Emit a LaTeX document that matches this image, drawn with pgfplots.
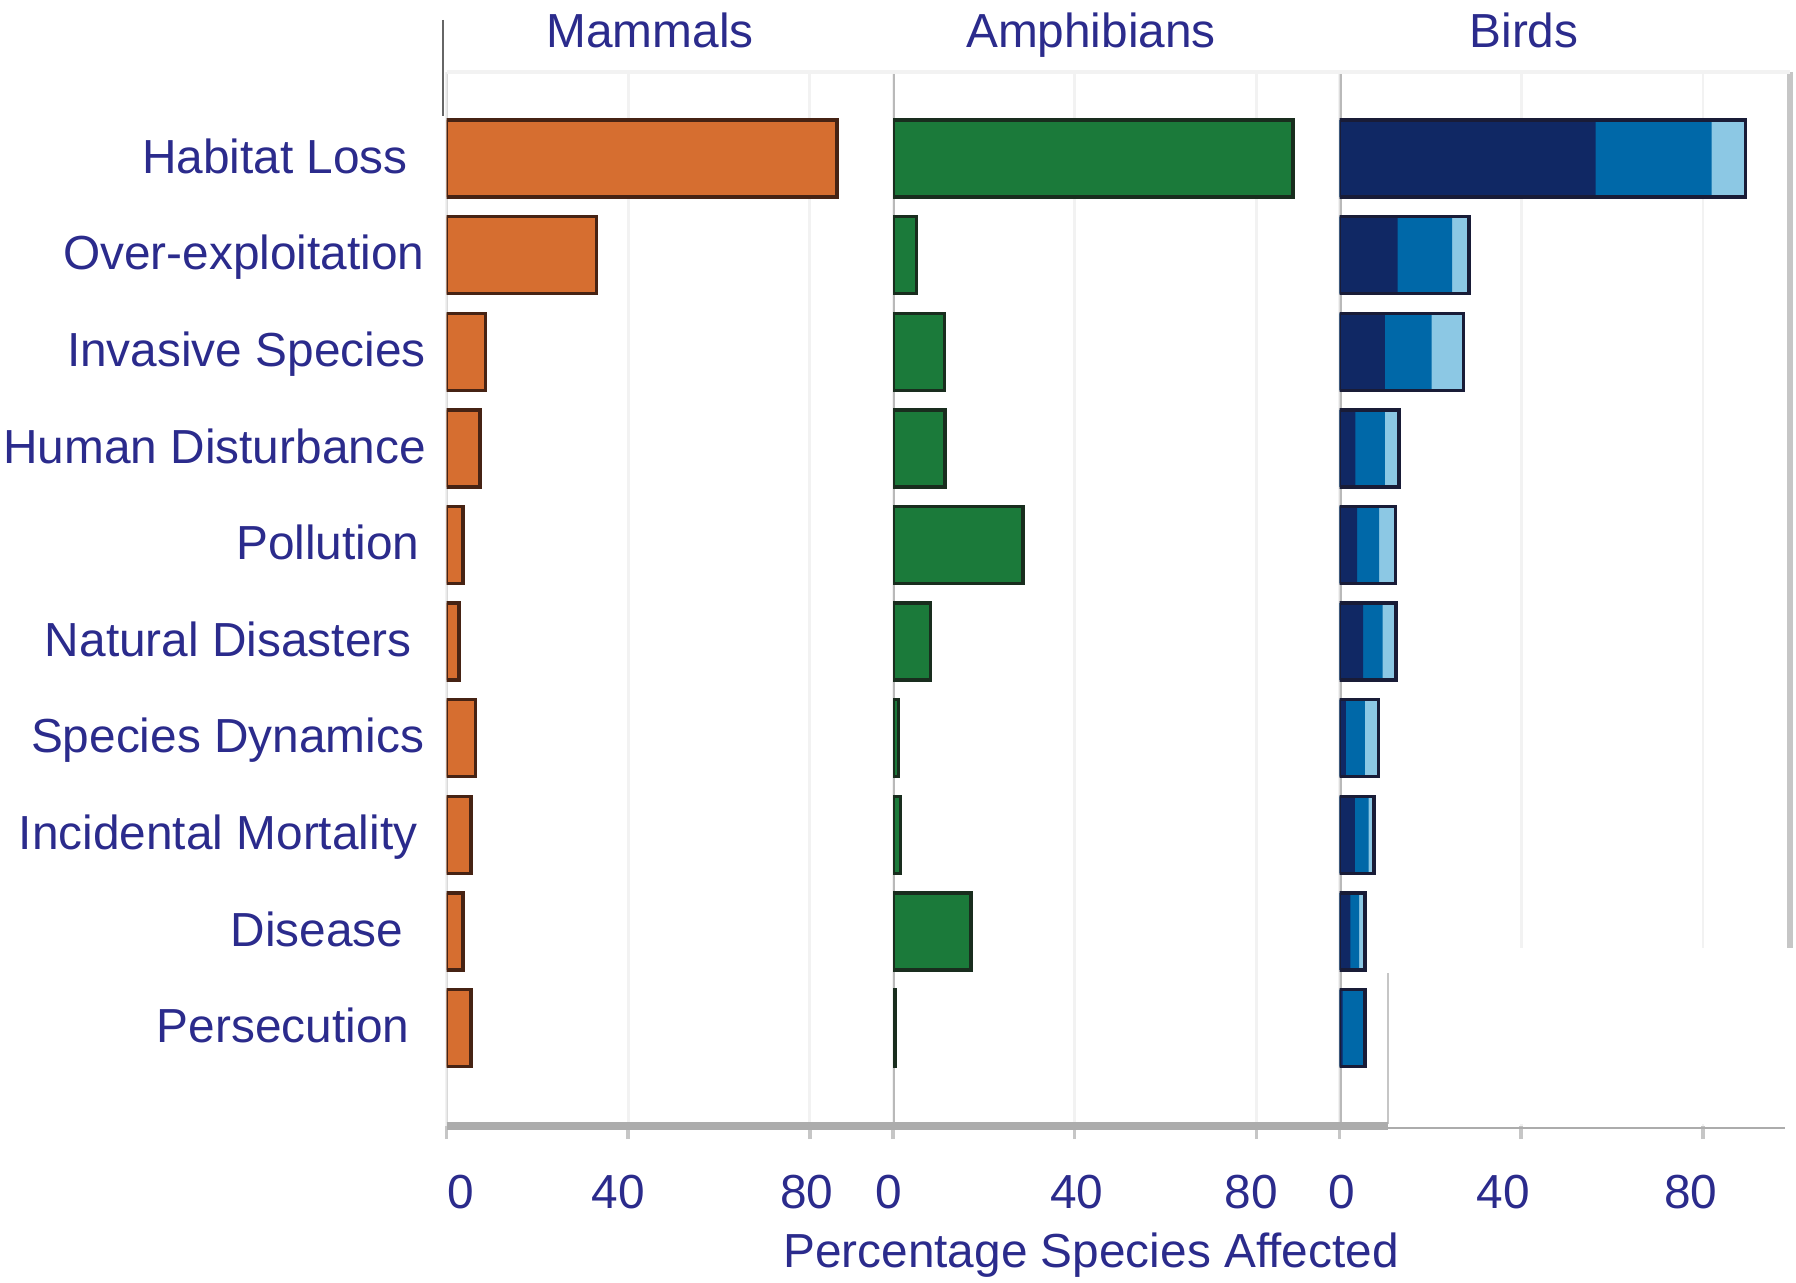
\documentclass[border=0pt]{standalone}
\usepackage{pgfplots}
\pgfplotsset{compat=1.18}
\usepackage{pgfplotstable}
\usepackage{fontspec}
\setmainfont{Liberation Sans}

\definecolor{txt}{RGB}{43,43,140}
\definecolor{orng}{RGB}{214,110,48}
\definecolor{orngdk}{RGB}{70,35,20}
\definecolor{grn}{RGB}{27,122,58}
\definecolor{grndk}{RGB}{25,45,30}
\definecolor{navy}{RGB}{16,40,100}
\definecolor{mblue}{RGB}{0,104,168}
\definecolor{lblue}{RGB}{140,200,228}
\definecolor{bdk}{RGB}{25,28,55}

% percentage of species affected; birds: cumulative ends of the three shades
\pgfplotstableread{
y mam  amp  b1   b2   b3
0 86.0 88.0 56.4 81.9 89.4
1 33.0 5.2  12.8 24.8 28.5
2 8.6  11.3 10.0 20.3 27.3
3 7.4  11.5 3.5  10.0 13.1
4 3.6  28.6 3.9  8.7  12.3
5 2.7  8.3  5.2  9.5  12.4
6 6.4  1.2  1.4  5.6  8.6
7 5.4  1.6  3.4  6.4  7.6
8 3.6  17.2 2.4  4.3  5.6
9 5.4  0.6  0.7  5.6  5.6
}\data

\pgfplotsset{panel/.style={
    scale only axis, width=4.465cm, height=10.54cm,
    xmin=0, xmax=98.3, ymin=-0.896, ymax=10.014, y dir=reverse,
    xtick={0,40,80}, ytick=\empty,
    xmajorgrids, grid style={gray!10, line width=0.8pt},
    axis line style={draw=none},
    tick align=outside, major tick length=0.13cm,
    xtick style={gray!45, line width=1pt},
    tick pos=left,
    xticklabel style={font=\fontsize{13.6}{16}\selectfont, text=txt,
        anchor=base, yshift=-0.69cm},
    xbar, bar width=0.77cm, bar shift=0pt,
}}

\begin{document}
\begin{tikzpicture}
\fontsize{13.6}{16}\selectfont

% Mammals
\begin{axis}[panel, at={(4.465cm,1.56cm)}, anchor=south west,
    ytick={0,...,9}, ytick style={draw=none},
    yticklabel style={font=\fontsize{13.6}{16}\selectfont, text=txt,
        anchor=base east, inner sep=0pt, xshift=-0.07cm, yshift=-4.2pt},
    yticklabels={Habitat Loss\kern0.18cm, Over-exploitation\kern0.013cm,
        Invasive Species, Human Disturbance, Pollution\kern0.062cm,
        Natural Disasters\kern0.143cm, Species Dynamics\kern0.016cm,
        Incidental Mortality\kern0.085cm, Disease\kern0.223cm,
        Persecution\kern0.166cm},
    xticklabels={\kern0.28cm 0, 40\kern0.2cm, 80\kern0.06cm}]
\draw[gray!30, line width=1pt] (axis cs:0,-0.896) -- (axis cs:0,10.014);
\addplot[fill=orng, draw=orngdk, line width=1pt] table[x=mam, y=y] {\data};
\end{axis}

% Amphibians
\begin{axis}[panel, at={(8.93cm,1.56cm)}, anchor=south west,
    xticklabels={0\kern0.08cm, \kern0.04cm 40, 80\kern0.1cm}]
\draw[gray!55, line width=1.2pt] (axis cs:0,-0.896) -- (axis cs:0,10.014);
\addplot[fill=grn, draw=grndk, line width=1pt] table[x=amp, y=y] {\data};
\end{axis}

% Birds
\begin{axis}[panel, at={(13.395cm,1.56cm)}, anchor=south west,
    xticklabels={\kern0.04cm 0, 40\kern0.36cm, 80\kern0.24cm}]
\draw[gray!55, line width=1.2pt] (axis cs:0,-0.896) -- (axis cs:0,10.014);
\addplot[fill=lblue, draw=none] table[x=b3, y=y] {\data};
\addplot[fill=mblue, draw=none] table[x=b2, y=y] {\data};
\addplot[fill=navy, draw=none] table[x=b1, y=y] {\data};
\addplot[fill=none, draw=bdk, line width=1pt] table[x=b3, y=y] {\data};
\end{axis}

% frame pieces of the original
\fill[white] (13.88,1.58) rectangle (17.96,3.34);
\draw[gray!45, line width=0.6pt] (13.88,1.58) -- (13.88,3.09);
\draw[gray!45, line width=1.5pt] (17.90,12.10) -- (17.90,3.34);
\draw[gray!10, line width=1pt] (4.465,12.10) -- (17.90,12.10);
\draw[gray!65, line width=2pt] (4.465,1.56) -- (13.88,1.56);
\draw[gray!65, line width=0.8pt] (13.88,1.54) -- (17.85,1.54);
\draw[black!60, line width=0.8pt] (4.43,12.62) -- (4.43,11.66);

% panel titles and axis title
\node[anchor=base, text=txt, inner sep=0pt] at (6.50,12.34) {Mammals};
\node[anchor=base, text=txt, inner sep=0pt] at (10.91,12.34) {Amphibians};
\node[anchor=base, text=txt, inner sep=0pt] at (15.24,12.34) {Birds};
\node[anchor=base, text=txt, inner sep=0pt] at (10.91,0.14) {Percentage Species Affected};

\pgfresetboundingbox
\path[use as bounding box] (0,0) rectangle (17.96,12.82);
\end{tikzpicture}
\end{document}
